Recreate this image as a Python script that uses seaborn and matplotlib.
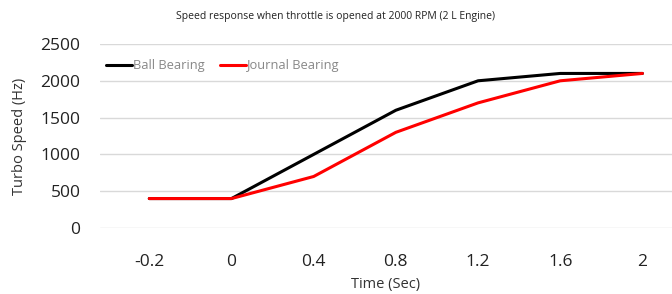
import pandas as pd
import matplotlib.pyplot as plt
import seaborn as sns

# Values
time_labels = ['-0.2', '0', '0.4', '0.8', '1.2', '1.6', '2']
ball_bearing = [400, 400, 1000, 1600, 2000, 2100, 2100]
journal_bearing = [400, 400, 700, 1300, 1700, 2000, 2100]
y_ticks = [0, 500, 1000, 1500, 2000, 2500]

df = pd.DataFrame({
    'pos': list(range(len(time_labels))) * 2,
    'speed': ball_bearing + journal_bearing,
    'bearing': ['Ball Bearing'] * len(time_labels) + ['Journal Bearing'] * len(time_labels),
})

sns.set_style('white')
plt.rcParams['font.family'] = ['Open Sans', 'DejaVu Sans']

fig = plt.figure(figsize=(6.72, 2.94), dpi=100)
ax = fig.add_axes([100 / 672, 1 - 228 / 294, 572 / 672, 184 / 294])

sns.lineplot(data=df, x='pos', y='speed', hue='bearing',
             palette={'Ball Bearing': 'black', 'Journal Bearing': '#ff0000'},
             linewidth=2.2, ax=ax, legend=True)

ax.set_xlim(-0.6, 6.36)
ax.set_ylim(0, 2500)
ax.set_xticks(range(len(time_labels)))
ax.set_xticklabels(time_labels)
ax.set_yticks(y_ticks)
ax.tick_params(axis='both', labelsize=12.5, length=0, colors='#222222')
ax.tick_params(axis='x', pad=19)
ax.tick_params(axis='y', pad=14)
ax.yaxis.grid(True, color='#d9d9d9', linewidth=1)
for s in ax.spines.values():
    s.set_visible(False)

ax.set_xlabel('Time (Sec)', fontsize=10.5, color='#333333', labelpad=5)
ax.set_ylabel('Turbo Speed (Hz)', fontsize=10.5, color='#333333', labelpad=10)
fig.text(0.5, 1 - 17 / 294, 'Speed response when throttle is opened at 2000 RPM (2 L Engine)',
         ha='center', va='center', fontsize=7.5, color='#222222')

leg = ax.legend(loc='upper left', bbox_to_anchor=(-0.01, 0.98), ncol=2, frameon=False,
                fontsize=9.3, handlelength=2.0, handletextpad=0.1, columnspacing=1.2)
for t in leg.get_texts():
    t.set_color('#888888')

fig.savefig('out.png', dpi=100)
